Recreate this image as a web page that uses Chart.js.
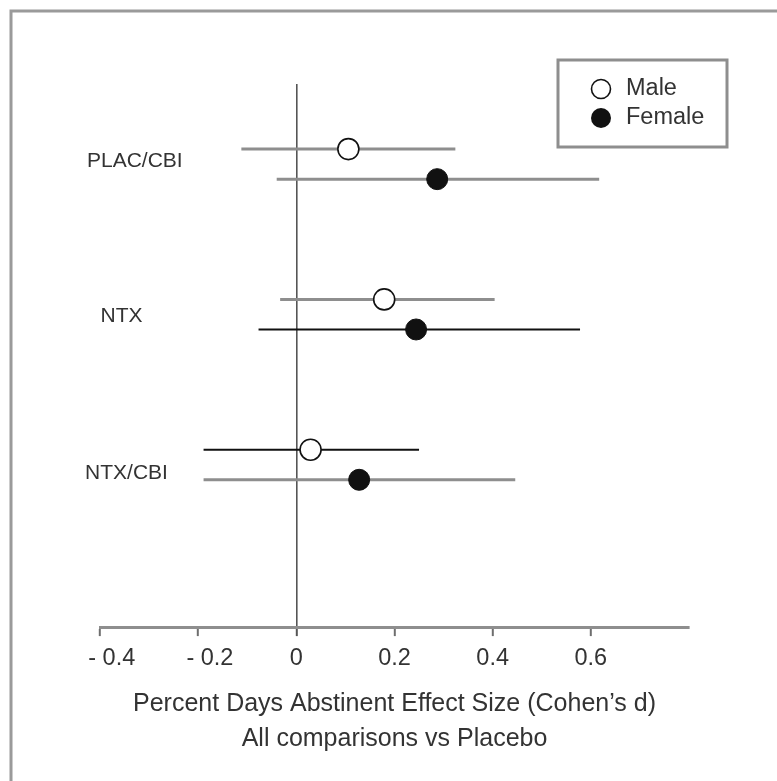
<!DOCTYPE html>
<html>
<head>
<meta charset="utf-8">
<script src="https://cdn.jsdelivr.net/npm/chart.js@4.4.1/dist/chart.umd.min.js"></script>
<style>
  html, body { margin: 0; padding: 0; background: #ffffff; }
  #wrap { width: 777px; height: 781px; }
</style>
</head>
<body>
<div id="wrap"><canvas id="c" width="777" height="781"></canvas></div>
<script>
// ---- data ----
const groups = ['PLAC/CBI', 'NTX', 'NTX/CBI'];
const seriesNames = ['Male', 'Female'];
const maleEffect = [0.106, 0.179, 0.029];
const maleLow    = [-0.112, -0.033, -0.189];
const maleHigh   = [0.324, 0.404, 0.250];
const femaleEffect = [0.287, 0.244, 0.128];
const femaleLow    = [-0.040, -0.077, -0.189];
const femaleHigh   = [0.617, 0.578, 0.446];
const xTickValues = [-0.4, -0.2, 0, 0.2, 0.4, 0.6];
const xTickLabels = ['- 0.4', '- 0.2', '0', '0.2', '0.4', '0.6'];
const axisTitle = ['Percent Days Abstinent Effect Size (Cohen\u2019s d)', 'All comparisons vs Placebo'];

// ---- layout helpers (row positions on the hidden y scale) ----
const maleRow = i => i + 1;
const femaleRow = i => i + 1.2;
const labelRow = [1.08, 2.11, 3.155];
const labelCenterX = [-0.329, -0.356, -0.346];
const GRAY = '#8e8e8e';
const BLACK = '#111111';
const maleLineColor = [GRAY, GRAY, BLACK];
const femaleLineColor = [GRAY, BLACK, GRAY];

const datasets = [];
groups.forEach((g, i) => {
  datasets.push({
    type: 'line', label: g + ' male CI', order: 2,
    data: [{x: maleLow[i], y: maleRow(i)}, {x: maleHigh[i], y: maleRow(i)}],
    borderColor: maleLineColor[i], borderWidth: maleLineColor[i] === GRAY ? 3 : 2,
    pointRadius: 0, showLine: true, fill: false
  });
  datasets.push({
    type: 'line', label: g + ' female CI', order: 2,
    data: [{x: femaleLow[i], y: femaleRow(i)}, {x: femaleHigh[i], y: femaleRow(i)}],
    borderColor: femaleLineColor[i], borderWidth: femaleLineColor[i] === GRAY ? 3 : 2,
    pointRadius: 0, showLine: true, fill: false
  });
});
datasets.push({
  type: 'scatter', label: seriesNames[0], order: 0,
  data: maleEffect.map((v, i) => ({x: v, y: maleRow(i)})),
  pointRadius: 10.5, pointBackgroundColor: '#ffffff', pointBorderColor: '#111111', pointBorderWidth: 1.6
});
datasets.push({
  type: 'scatter', label: seriesNames[1], order: 0,
  data: femaleEffect.map((v, i) => ({x: v, y: femaleRow(i)})),
  pointRadius: 10.5, pointBackgroundColor: '#111111', pointBorderColor: '#111111', pointBorderWidth: 1
});

const FONT = "'Liberation Sans', Arial, Helvetica, sans-serif";

const framePlugin = {
  id: 'frame',
  beforeDraw(chart) {
    const ctx = chart.ctx;
    ctx.save();
    ctx.fillStyle = '#ffffff';
    ctx.fillRect(0, 0, chart.width, chart.height);
    ctx.strokeStyle = '#9a9a9a';
    ctx.lineWidth = 3;
    ctx.beginPath();
    ctx.moveTo(11, chart.height + 5);
    ctx.lineTo(11, 11);
    ctx.lineTo(chart.width + 5, 11);
    ctx.stroke();
    ctx.restore();
  }
};

const groupLabelPlugin = {
  id: 'groupLabels',
  afterDatasetsDraw(chart) {
    const ctx = chart.ctx;
    const xs = chart.scales.x, ys = chart.scales.y;
    ctx.save();
    ctx.font = '21px ' + FONT;
    ctx.fillStyle = '#333333';
    ctx.textAlign = 'center';
    ctx.textBaseline = 'middle';
    groups.forEach((g, i) => {
      ctx.fillText(g, xs.getPixelForValue(labelCenterX[i]), ys.getPixelForValue(labelRow[i]));
    });
    ctx.restore();
  }
};

const legendBoxPlugin = {
  id: 'legendBox',
  afterDatasetsDraw(chart) {
    const ctx = chart.ctx;
    ctx.save();
    ctx.strokeStyle = '#8e8e8e';
    ctx.lineWidth = 3;
    ctx.strokeRect(558, 60, 169, 87);
    ctx.beginPath();
    ctx.arc(601, 89, 9.5, 0, Math.PI * 2);
    ctx.fillStyle = '#ffffff'; ctx.fill();
    ctx.lineWidth = 1.6; ctx.strokeStyle = '#111111'; ctx.stroke();
    ctx.beginPath();
    ctx.arc(601, 118, 10, 0, Math.PI * 2);
    ctx.fillStyle = '#111111'; ctx.fill();
    ctx.font = '23.5px ' + FONT;
    ctx.fillStyle = '#333333';
    ctx.textAlign = 'left';
    ctx.textBaseline = 'middle';
    ctx.fillText(seriesNames[0], 626, 89);
    ctx.fillText(seriesNames[1], 626, 118);
    ctx.restore();
  }
};

new Chart(document.getElementById('c'), {
  type: 'scatter',
  data: { datasets },
  options: {
    responsive: false,
    animation: false,
    devicePixelRatio: 1,
    layout: { padding: { left: 100, right: 88, top: 84, bottom: 24 } },
    plugins: { legend: { display: false }, tooltip: { enabled: false }, title: { display: false } },
    scales: {
      x: {
        type: 'linear', min: -0.4, max: 0.8,
        afterBuildTicks: s => { s.ticks = xTickValues.concat([0.8]).map(v => ({value: v})); },
        ticks: {
          autoSkip: false, maxRotation: 0,
          padding: 8,
          color: '#333333',
          font: { family: FONT, size: 23.5 },
          callback: (v) => {
            const i = xTickValues.findIndex(t => Math.abs(t - v) < 1e-9);
            if (i < 0) return '';
            const lab = xTickLabels[i];
            return v < 0 ? '\u2002\u2002' + lab : lab;
          }
        },
        grid: {
          drawOnChartArea: true,
          color: c => (c.tick && Math.abs(c.tick.value) < 1e-9) ? '#555555' : 'rgba(0,0,0,0)',
          lineWidth: 1.6,
          tickLength: 9,
          tickWidth: 2,
          tickColor: c => (c.tick && c.tick.value > 0.7) ? 'rgba(0,0,0,0)' : (Math.abs(c.tick.value) < 1e-9 ? '#555555' : '#6e6e6e')
        },
        border: { display: true, color: '#8e8e8e', width: 3 },
        title: {
          display: true,
          text: axisTitle,
          color: '#333333',
          font: { family: FONT, size: 25, lineHeight: 35 / 25 },
          padding: { top: 6.7, bottom: 0 }
        }
      },
      y: {
        type: 'linear', display: false, reverse: true, min: 0.567, max: 4.18
      }
    }
  },
  plugins: [framePlugin, groupLabelPlugin, legendBoxPlugin]
});
</script>
</body>
</html>
